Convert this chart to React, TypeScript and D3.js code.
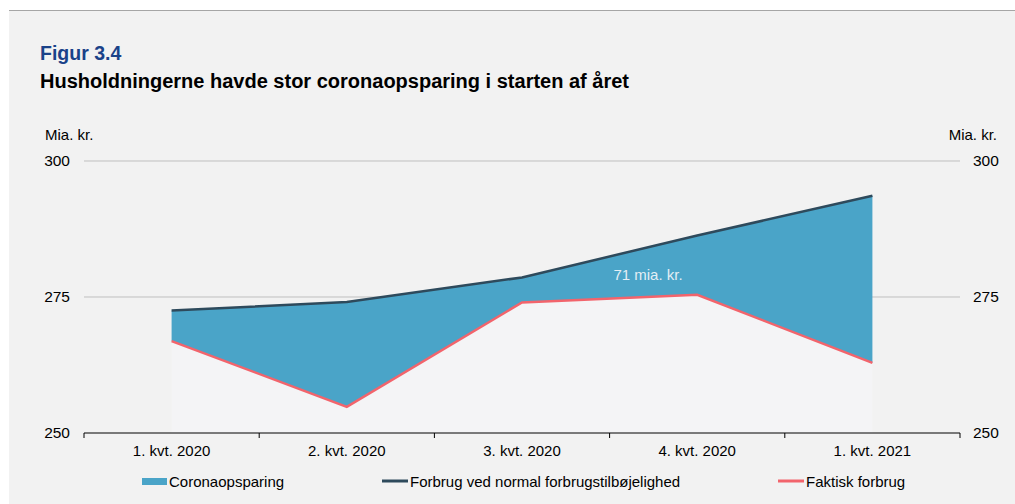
import React from "react";
import * as d3 from "d3";

const categories = ["1. kvt. 2020", "2. kvt. 2020", "3. kvt. 2020", "4. kvt. 2020", "1. kvt. 2021"];
const normalForbrug = [272.5, 274.1, 278.6, 286.3, 293.6];
const faktiskForbrug = [266.9, 254.8, 274.0, 275.4, 262.9];
const yTicks = [250, 275, 300];
const areaLabel = "71 mia. kr.";

const W = 1015;
const H = 504;
const left = 84;
const right = 960;
const top = 161;
const bottom = 433;
const font = "'Liberation Sans', Arial, sans-serif";

export default function App() {
  const x = d3.scaleBand<string>().domain(categories).range([left, right]);
  const y = d3.scaleLinear().domain([250, 300]).range([bottom, top]);
  const cx = (c: string) => (x(c) as number) + x.bandwidth() / 2;
  const idx = categories.map((_, i) => i);

  const areaPath = d3
    .area<number>()
    .x((i) => cx(categories[i]))
    .y0((i) => y(faktiskForbrug[i]))
    .y1((i) => y(normalForbrug[i]))(idx) as string;
  const underPath = d3
    .area<number>()
    .x((i) => cx(categories[i]))
    .y0(() => y(250))
    .y1((i) => y(faktiskForbrug[i]))(idx) as string;
  const lineN = d3
    .line<number>()
    .x((i) => cx(categories[i]))
    .y((i) => y(normalForbrug[i]))(idx) as string;
  const lineF = d3
    .line<number>()
    .x((i) => cx(categories[i]))
    .y((i) => y(faktiskForbrug[i]))(idx) as string;

  const boundaries = [left, ...categories.map((c) => (x(c) as number) + x.bandwidth())];

  return (
    <svg width={W} height={H} style={{ position: "absolute", left: 0, top: 0 }} fontFamily={font}>
      <rect x={0} y={0} width={W} height={H} fill="#ffffff" />
      <rect x={9} y={11} width={W - 9} height={H - 11} fill="#f2f2f2" />
      <line x1={9} x2={W} y1={10.5} y2={10.5} stroke="#a6a6a6" strokeWidth={1} />
      <text x={40} y={60} fontSize={19.5} fontWeight="bold" fill="#1a4289">Figur 3.4</text>
      <text x={40} y={88} fontSize={20} fontWeight="bold" fill="#000">
        Husholdningerne havde stor coronaopsparing i starten af året
      </text>

      <text x={45} y={140} fontSize={15} fill="#000">Mia. kr.</text>
      <text x={997} y={140} fontSize={15} fill="#000" textAnchor="end">Mia. kr.</text>

      {yTicks.filter((t) => t !== 250).map((t) => (
        <line key={"g" + t} x1={left} x2={right} y1={y(t)} y2={y(t)} stroke="#bfbfbf" strokeWidth={1} />
      ))}
      {yTicks.map((t) => (
        <g key={"l" + t}>
          <text x={70} y={y(t) + 5} fontSize={15.5} textAnchor="end" fill="#000">{t}</text>
          <text x={973} y={y(t) + 5} fontSize={15.5} textAnchor="start" fill="#000">{t}</text>
        </g>
      ))}

      <path d={underPath} fill="#f4f4f6" />
      <path d={areaPath} fill="#4aa4c8" />
      <path d={lineN} fill="none" stroke="#2e4a5c" strokeWidth={2.5} />
      <path d={lineF} fill="none" stroke="#f2646c" strokeWidth={2.5} />
      <text x={648} y={280} fontSize={15} fill="#e3eef5" textAnchor="middle">{areaLabel}</text>

      <line x1={left} x2={right} y1={bottom} y2={bottom} stroke="#000" strokeWidth={1} />
      {boundaries.map((b, i) => (
        <line key={"t" + i} x1={b} x2={b} y1={bottom} y2={bottom + 5} stroke="#000" strokeWidth={1} />
      ))}
      {categories.map((c) => (
        <text key={c} x={cx(c)} y={456} fontSize={15} textAnchor="middle" fill="#000">{c}</text>
      ))}

      <rect x={142} y={478} width={25} height={7} fill="#4aa4c8" />
      <text x={169} y={487} fontSize={15} fill="#000">Coronaopsparing</text>
      <line x1={382} x2={408} y1={481} y2={481} stroke="#2e4a5c" strokeWidth={3} />
      <text x={410} y={487} fontSize={15} fill="#000">Forbrug ved normal forbrugstilbøjelighed</text>
      <line x1={778} x2={804} y1={481} y2={481} stroke="#f2646c" strokeWidth={3} />
      <text x={806} y={487} fontSize={15} fill="#000">Faktisk forbrug</text>
    </svg>
  );
}
